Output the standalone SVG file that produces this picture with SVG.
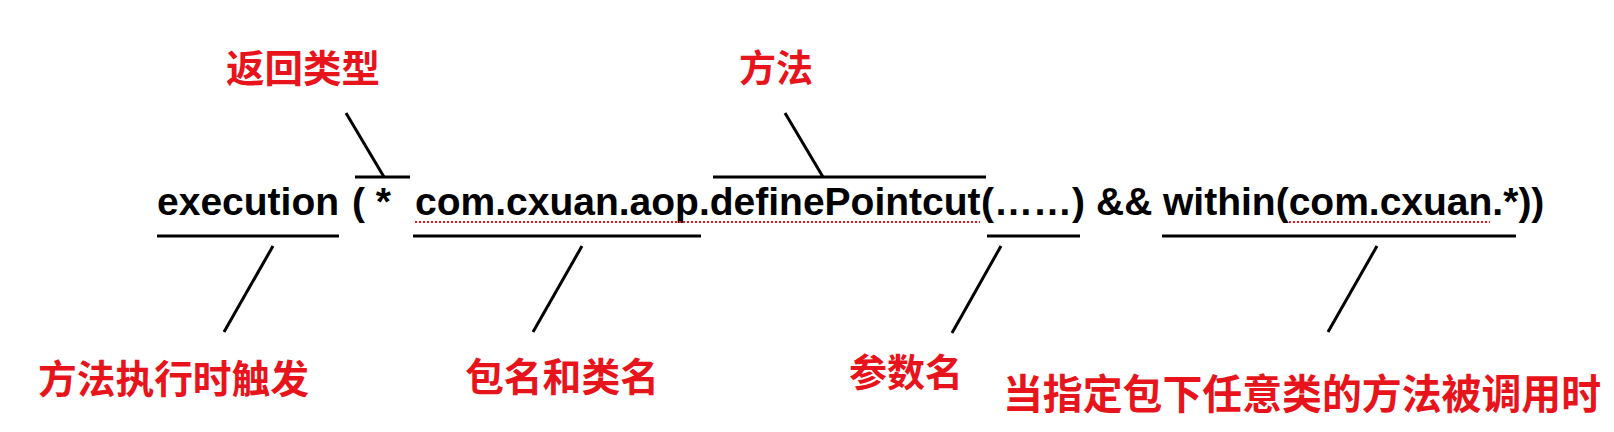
<svg xmlns="http://www.w3.org/2000/svg" width="1614" height="432" viewBox="0 0 1614 432">
<style>
.code{font-family:"Liberation Sans",Arial,sans-serif;font-weight:bold;font-size:39px;fill:#000}
.lbl{font-family:"Noto Sans CJK SC","Noto Sans",sans-serif;font-weight:bold;fill:#e8141c}
.ln{stroke:#000;stroke-width:3;fill:none;stroke-linecap:butt}
.sp{stroke:#e8141c;stroke-width:2;stroke-dasharray:2 2;fill:none}
</style>
<rect width="1614" height="432" fill="#fff"/>
<g id="code">
<text class="code" x="157" y="215">execution</text>
<text class="code" x="352" y="215">( *</text>
<text class="code" x="415" y="215">com.cxuan.aop.definePointcut</text>
<text class="code" x="981" y="215">(……)</text>
<text class="code" x="1096" y="215">&amp;&amp;</text>
<text class="code" x="1163" y="215">within(com.cxuan.*))</text>
<line class="sp" x1="415" y1="222" x2="980" y2="222"/>
<line class="sp" x1="1289" y1="222" x2="1490" y2="222"/>
</g>
<g id="label-return"><text class="lbl" x="226" y="82" font-size="38" textLength="154" lengthAdjust="spacingAndGlyphs">返回类型</text></g>
<g id="label-method"><text class="lbl" x="739" y="82" font-size="37" textLength="74" lengthAdjust="spacingAndGlyphs">方法</text></g>
<g id="label-exec"><text class="lbl" x="38" y="393" font-size="38.5" textLength="271" lengthAdjust="spacingAndGlyphs">方法执行时触发</text></g>
<g id="label-pkg"><text class="lbl" x="465" y="391" font-size="38.5" textLength="194" lengthAdjust="spacingAndGlyphs">包名和类名</text></g>
<g id="label-args"><text class="lbl" x="849" y="386" font-size="38" textLength="114" lengthAdjust="spacingAndGlyphs">参数名</text></g>
<g id="label-within"><text class="lbl" x="1003" y="409" font-size="41" textLength="598" lengthAdjust="spacingAndGlyphs">当指定包下任意类的方法被调用时</text></g>
<g id="connectors">
<line class="ln" x1="355" y1="177" x2="410" y2="177"/>
<line class="ln" x1="346" y1="113" x2="384" y2="177"/>
<line class="ln" x1="713" y1="177" x2="986" y2="177"/>
<line class="ln" x1="785" y1="113" x2="823" y2="177"/>
<line class="ln" x1="157" y1="236" x2="339" y2="236"/>
<line class="ln" x1="273" y1="246" x2="224" y2="332"/>
<line class="ln" x1="413" y1="236" x2="701" y2="236"/>
<line class="ln" x1="582" y1="246" x2="533" y2="332"/>
<line class="ln" x1="987" y1="236" x2="1080" y2="236"/>
<line class="ln" x1="1001" y1="246" x2="952" y2="333"/>
<line class="ln" x1="1162" y1="236" x2="1516" y2="236"/>
<line class="ln" x1="1377" y1="246" x2="1328" y2="332"/>
</g>
</svg>
